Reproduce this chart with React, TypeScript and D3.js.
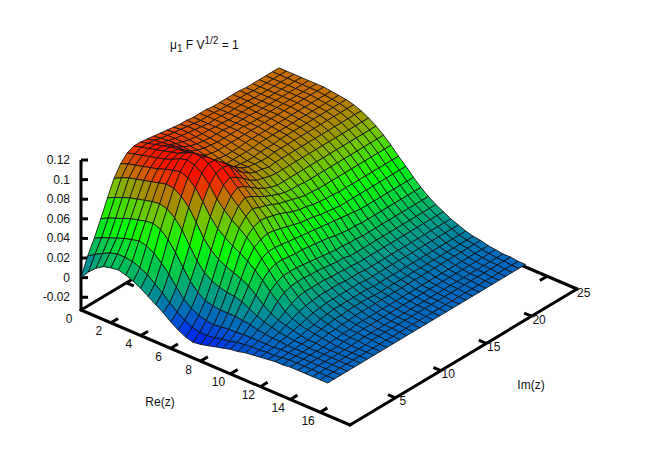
import React from "react";
import * as d3 from "d3";

const width = 658;
const height = 461;

// grid of the surface
const reGrid = [0, 0.5, 1, 1.5, 2, 2.5, 3, 3.5, 4, 4.5, 5, 5.5, 6, 6.5, 7, 7.5, 8, 8.5, 9, 9.5, 10, 10.5, 11, 11.5, 12, 12.5, 13, 13.5, 14, 14.5, 15, 15.5, 16, 16.5];
const imStep = 0.7267;

// heights in units of 0.001, one row per Im step, one column per Re step
const heights = [
  [0, 9, 16, 21, 23, 24, 22, 19, 15, 10, 5, 0, -6, -11, -15, -17, -16, -14, -12, -10, -8, -7, -5, -4, -3, -2, -1, -1, 0, 0, 0, 0, 0, 0],
  [18, 23, 27, 31, 33, 33, 32, 29, 25, 19, 13, 6, 0, -5, -9, -11, -11, -10, -8, -7, -5, -4, -3, -3, -2, -2, -1, 0, 0, 0, 0, 0, 0, 0],
  [32, 36, 39, 42, 45, 47, 49, 47, 43, 36, 28, 18, 9, 3, -1, -3, -4, -3, -2, -2, -1, -1, -1, -1, -1, 0, 0, 0, 0, 0, 0, 0, 0, 0],
  [48, 52, 55, 58, 61, 63, 65, 66, 63, 56, 46, 34, 23, 15, 10, 8, 7, 7, 7, 6, 5, 3, 2, 1, 1, 0, 0, 0, 0, 0, 0, 0, 0, 0],
  [65, 69, 72, 75, 77, 79, 81, 82, 80, 74, 65, 52, 40, 31, 26, 23, 21, 20, 18, 14, 10, 7, 5, 3, 2, 1, 1, 0, 0, 0, 0, 0, 0, 0],
  [81, 85, 88, 90, 92, 94, 96, 98, 97, 92, 84, 72, 59, 50, 44, 40, 37, 34, 30, 24, 17, 12, 8, 6, 4, 2, 1, 1, 0, 0, 0, 0, 0, 0],
  [92, 95, 97, 99, 101, 103, 106, 108, 110, 107, 100, 89, 77, 68, 62, 57, 53, 48, 42, 35, 27, 20, 13, 9, 6, 4, 3, 2, 1, 0, 0, 0, 0, 0],
  [99, 101, 103, 105, 107, 109, 112, 116, 118, 116, 111, 102, 91, 83, 76, 71, 65, 58, 50, 41, 32, 25, 17, 12, 8, 5, 4, 3, 1, 1, 0, 0, 0, 0],
  [102, 104, 106, 108, 110, 112, 114, 118, 121, 120, 117, 110, 101, 93, 86, 79, 71, 62, 53, 44, 35, 27, 20, 14, 10, 7, 5, 3, 2, 1, 1, 0, 0, 0],
  [102, 104, 106, 108, 110, 111, 112, 114, 115, 116, 116, 112, 105, 98, 91, 83, 74, 64, 53, 44, 35, 28, 21, 15, 11, 8, 6, 4, 2, 2, 1, 1, 0, 0],
  [101, 103, 104, 105, 106, 106, 106, 106, 107, 108, 110, 110, 101, 95, 88, 80, 73, 63, 52, 43, 35, 28, 21, 16, 12, 9, 6, 4, 3, 2, 1, 1, 0, 0],
  [100, 101, 102, 102, 102, 101, 100, 99, 99, 101, 103, 101, 96, 90, 84, 78, 71, 61, 51, 42, 34, 27, 21, 16, 12, 9, 7, 5, 3, 2, 1, 1, 0, 0],
  [99, 100, 100, 100, 99, 98, 96, 94, 93, 94, 97, 95, 90, 85, 80, 75, 69, 59, 50, 42, 33, 27, 21, 16, 12, 9, 7, 5, 3, 2, 1, 1, 0, 0],
  [98, 99, 99, 98, 97, 96, 94, 92, 90, 90, 92, 90, 86, 81, 77, 72, 66, 57, 49, 41, 32, 26, 20, 16, 12, 9, 7, 5, 3, 2, 1, 1, 0, 0],
  [97, 98, 98, 97, 96, 95, 93, 91, 90, 89, 89, 87, 84, 78, 74, 70, 63, 55, 48, 40, 31, 25, 20, 15, 12, 9, 7, 5, 3, 2, 1, 1, 0, 0],
  [96, 97, 97, 96, 95, 94, 93, 91, 90, 88, 88, 86, 82, 76, 72, 68, 61, 54, 47, 39, 30, 24, 19, 15, 12, 9, 6, 5, 3, 2, 1, 1, 0, 0],
  [96, 96, 96, 96, 95, 94, 93, 91, 90, 88, 87, 84, 81, 76, 71, 66, 60, 53, 46, 38, 29, 24, 19, 15, 11, 8, 6, 5, 3, 2, 1, 1, 0, 0],
  [95, 95, 95, 95, 95, 94, 93, 92, 90, 89, 87, 85, 81, 76, 71, 64, 58, 51, 45, 36, 29, 22, 18, 14, 11, 8, 6, 5, 3, 2, 1, 1, 0, 0],
  [95, 95, 95, 95, 94, 94, 93, 92, 91, 89, 88, 85, 81, 76, 70, 64, 57, 50, 44, 35, 28, 22, 18, 14, 11, 8, 6, 5, 3, 2, 1, 1, 0, 0],
  [95, 95, 95, 94, 94, 94, 93, 92, 91, 89, 88, 85, 81, 76, 70, 63, 56, 49, 43, 34, 28, 22, 18, 14, 11, 8, 6, 5, 3, 2, 1, 1, 0, 0],
  [94, 94, 94, 94, 94, 93, 93, 92, 91, 90, 88, 85, 81, 76, 70, 63, 56, 48, 42, 34, 27, 22, 18, 14, 11, 8, 6, 5, 3, 2, 1, 1, 0, 0],
  [94, 94, 94, 94, 94, 93, 93, 92, 91, 90, 88, 85, 81, 76, 70, 63, 55, 48, 41, 33, 27, 22, 18, 14, 11, 8, 6, 5, 3, 2, 1, 1, 0, 0],
  [94, 94, 94, 94, 93, 93, 93, 92, 91, 90, 88, 85, 81, 76, 70, 63, 55, 48, 40, 33, 27, 22, 18, 14, 11, 8, 6, 5, 3, 2, 1, 1, 0, 0],
  [94, 94, 94, 93, 93, 93, 93, 92, 91, 90, 88, 85, 81, 76, 70, 63, 55, 48, 40, 33, 27, 22, 18, 14, 11, 8, 6, 5, 3, 2, 1, 1, 0, 0],
  [94, 94, 93, 93, 93, 93, 93, 92, 91, 90, 88, 85, 81, 76, 70, 63, 55, 48, 40, 33, 27, 22, 18, 14, 11, 8, 6, 5, 3, 2, 1, 1, 0, 0],
  [93, 93, 93, 93, 93, 93, 93, 92, 91, 90, 88, 85, 81, 76, 70, 63, 55, 48, 40, 33, 27, 22, 18, 14, 11, 8, 6, 5, 3, 2, 1, 1, 0, 0],
  [93, 93, 93, 93, 93, 93, 93, 92, 91, 90, 88, 85, 81, 76, 70, 63, 55, 48, 40, 33, 27, 22, 18, 14, 11, 8, 6, 5, 3, 2, 1, 1, 0, 0],
  [93, 93, 93, 93, 93, 93, 93, 92, 91, 90, 88, 85, 81, 76, 70, 63, 55, 48, 40, 33, 27, 22, 18, 14, 11, 8, 6, 5, 3, 2, 1, 1, 0, 0],
  [93, 93, 93, 93, 93, 93, 93, 92, 91, 90, 88, 85, 81, 76, 70, 63, 55, 48, 40, 33, 27, 22, 18, 14, 11, 8, 6, 5, 3, 2, 1, 1, 0, 0],
  [93, 93, 93, 93, 93, 93, 93, 92, 91, 90, 88, 85, 81, 76, 70, 63, 55, 48, 40, 33, 27, 22, 18, 14, 11, 8, 6, 5, 3, 2, 1, 1, 0, 0],
  [93, 93, 93, 93, 93, 93, 93, 92, 91, 90, 88, 85, 81, 76, 70, 63, 55, 48, 40, 33, 27, 22, 18, 14, 11, 8, 6, 5, 3, 2, 1, 1, 0, 0],
];

const zTicks = [-0.02, 0, 0.02, 0.04, 0.06, 0.08, 0.1, 0.12];
const reTicks = [0, 2, 4, 6, 8, 10, 12, 14, 16];
const imTicks = [5, 10, 15, 20, 25];

// colour bar stops
const paletteStops = [-0.018, 0, 0.02, 0.052, 0.075, 0.093, 0.1, 0.108];
const paletteColors = ["#0018ff", "#0066c0", "#00a878", "#00ff00", "#78c000", "#c46c00", "#e83a00", "#ff1000"];

// the three axes of the oblique view, as screen offsets
const reToX = d3.scaleLinear().domain([0, 18]).range([0, 269]);
const reToY = d3.scaleLinear().domain([0, 18]).range([0, 115]);
const imToX = d3.scaleLinear().domain([0, 25]).range([0, 227]);
const imToY = d3.scaleLinear().domain([0, 25]).range([0, -136]);
const zToY = d3.scaleLinear().domain([-0.033, 0.12]).range([310, 160]);
const originX = 81;

const px = (re: number, im: number) => originX + reToX(re) + imToX(im);
const py = (re: number, im: number, z: number) => zToY(z) + reToY(re) + imToY(im);

const palette = d3.scaleLinear<string>().domain(paletteStops).range(paletteColors).clamp(true);

const font = "'Liberation Sans', Arial, sans-serif";

function Surface() {
  const cells: React.ReactElement[] = [];
  // back to front so nearer cells cover the ones behind
  for (let j = heights.length - 2; j >= 0; j--) {
    for (let i = 0; i < reGrid.length - 1; i++) {
      const corners: [number, number][] = [
        [i, j],
        [i + 1, j],
        [i + 1, j + 1],
        [i, j + 1],
      ];
      const zs = corners.map(([a, b]) => heights[b][a] / 1000);
      const points = corners
        .map(([a, b], k) => `${px(reGrid[a], b * imStep).toFixed(2)},${py(reGrid[a], b * imStep, zs[k]).toFixed(2)}`)
        .join(" ");
      cells.push(
        <polygon key={`${i}-${j}`} points={points} fill={palette(d3.mean(zs) as number)} stroke="#111" strokeWidth={0.85} strokeLinejoin="round" />
      );
    }
  }
  return <g>{cells}</g>;
}

function baseLine(re0: number, im0: number, re1: number, im1: number, key: string) {
  return <line key={key} x1={px(re0, im0)} y1={py(re0, im0, -0.033)} x2={px(re1, im1)} y2={py(re1, im1, -0.033)} stroke="#000" strokeWidth={3} strokeLinecap="round" />;
}

export default function App() {
  const reMax = 18;
  const imMax = 25;
  return (
    <svg width={width} height={height} style={{ position: "absolute", left: 0, top: 0, background: "#fff" }} fontFamily={font} fontSize={12} fill="#111">
      {/* box under the surface */}
      {baseLine(0, 0, reMax, 0, "front-re")}
      {baseLine(reMax, 0, reMax, imMax, "front-im")}
      {baseLine(0, 0, 0, imMax, "back-im")}
      {baseLine(0, imMax, reMax, imMax, "back-re")}
      <line x1={originX} y1={zToY(-0.033)} x2={originX} y2={zToY(0.12)} stroke="#000" strokeWidth={3} />

      {zTicks.map((t) => (
        <g key={t}>
          <line x1={originX} x2={originX + 7} y1={zToY(t)} y2={zToY(t)} stroke="#000" strokeWidth={3} />
          <text x={70} y={zToY(t) + 4} textAnchor="end">{t}</text>
        </g>
      ))}
      {reTicks.filter((t) => t > 0).map((t) => (
        <g key={t}>
          <line x1={px(t, 0)} y1={py(t, 0, -0.033)} x2={px(t, 0.8)} y2={py(t, 0.8, -0.033)} stroke="#000" strokeWidth={3} />
          <line x1={px(t, imMax)} y1={py(t, imMax, -0.033)} x2={px(t, imMax - 0.8)} y2={py(t, imMax - 0.8, -0.033)} stroke="#000" strokeWidth={3} />
        </g>
      ))}
      {imTicks.filter((t) => t < imMax).map((t) => (
        <g key={t}>
          <line x1={px(reMax, t)} y1={py(reMax, t, -0.033)} x2={px(reMax - 0.5, t)} y2={py(reMax - 0.5, t, -0.033)} stroke="#000" strokeWidth={3} />
          <line x1={px(0, t)} y1={py(0, t, -0.033)} x2={px(0.5, t)} y2={py(0.5, t, -0.033)} stroke="#000" strokeWidth={3} />
        </g>
      ))}

      <Surface />

      {reTicks.map((t) => (
        <text key={t} x={px(t, 0) - 12} y={py(t, 0, -0.033) + 12.5} textAnchor="middle">{t}</text>
      ))}
      {imTicks.map((t) => (
        <text key={t} x={t === imMax ? px(reMax, t) : px(reMax, t) + 7.5} y={py(reMax, t, -0.033) + 7.5} textAnchor={t === imMax ? "start" : "middle"}>{t}</text>
      ))}

      <text x={160} y={406} textAnchor="middle">Re(z)</text>
      <text x={531} y={389} textAnchor="middle">Im(z)</text>

      <text x={170} y={49}>
        <tspan>μ</tspan>
        <tspan fontSize={10} dy={3}>1</tspan>
        <tspan dy={-3}> F V</tspan>
        <tspan fontSize={10} dy={-5}>1/2</tspan>
        <tspan dy={5}> = 1</tspan>
      </text>
    </svg>
  );
}
